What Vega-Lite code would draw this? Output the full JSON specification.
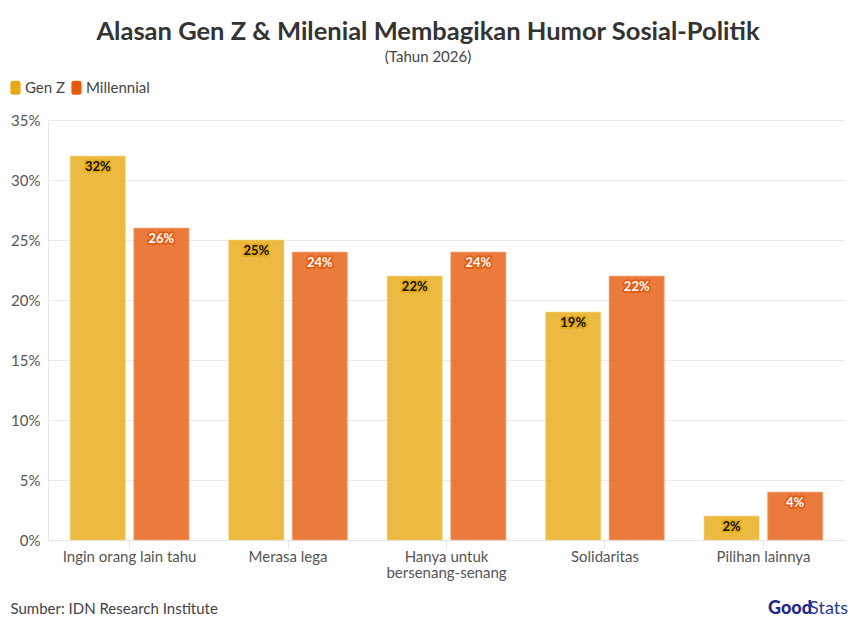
{
  "$schema": "https://vega.github.io/schema/vega-lite/v6.json",
  "width": 797,
  "height": 420,
  "autosize": {"type": "none"},
  "padding": {"left": 48, "top": 120, "right": 13, "bottom": 90},
  "background": "#ffffff",
  "title": {
    "text": "Alasan Gen Z & Milenial Membagikan Humor Sosial-Politik",
    "subtitle": "(Tahun 2026)",
    "anchor": "middle",
    "frame": "bounds",
    "offset": 15,
    "font": "Lato",
    "fontSize": 25.5,
    "fontWeight": "bold",
    "color": "#333333",
    "subtitleFont": "Lato",
    "subtitleFontSize": 15,
    "subtitleColor": "#444444",
    "subtitlePadding": 5
  },
  "config": {
    "view": {"stroke": null},
    "font": "Lato",
    "axis": {"labelFont": "Lato", "labelFontSize": 15, "labelColor": "#555555"}
  },
  "layer": [
    {
      "data": {
        "values": [
          {"alasan": "Ingin orang lain tahu", "generasi": "Gen Z", "persen": 32},
          {"alasan": "Ingin orang lain tahu", "generasi": "Millennial", "persen": 26},
          {"alasan": "Merasa lega", "generasi": "Gen Z", "persen": 25},
          {"alasan": "Merasa lega", "generasi": "Millennial", "persen": 24},
          {"alasan": "Hanya untuk|bersenang-senang", "generasi": "Gen Z", "persen": 22},
          {"alasan": "Hanya untuk|bersenang-senang", "generasi": "Millennial", "persen": 24},
          {"alasan": "Solidaritas", "generasi": "Gen Z", "persen": 19},
          {"alasan": "Solidaritas", "generasi": "Millennial", "persen": 22},
          {"alasan": "Pilihan lainnya", "generasi": "Gen Z", "persen": 2},
          {"alasan": "Pilihan lainnya", "generasi": "Millennial", "persen": 4}
        ]
      },
      "transform": [{"calculate": "datum.persen + '%'", "as": "label"}],
      "encoding": {
        "x": {
          "field": "alasan",
          "type": "nominal",
          "sort": null,
          "scale": {"paddingInner": 0.25, "paddingOuter": 0.14},
          "axis": {
            "title": "Sumber: IDN Research Institute",
            "titleFont": "Lato",
            "titleFontSize": 15,
            "titleFontWeight": "normal",
            "titleColor": "#444444",
            "titleAnchor": "start",
            "titleAlign": "left",
            "titleX": -38,
            "titleY": 61,
            "labelAngle": 0,
            "labelExpr": "split(datum.label, '|')",
            "labelPadding": 1,
            "labelLineHeight": 16,
            "domainColor": "#e6e6e6",
            "tickColor": "#e6e6e6",
            "tickSize": 8,
            "grid": false
          }
        },
        "xOffset": {"field": "generasi", "type": "nominal", "scale": {"paddingInner": 0.13}},
        "y": {
          "field": "persen",
          "type": "quantitative",
          "scale": {"domain": [0, 35]},
          "axis": {
            "title": null,
            "values": [0, 5, 10, 15, 20, 25, 30, 35],
            "labelExpr": "datum.value + '%'",
            "ticks": false,
            "labelPadding": 8,
            "domain": true,
            "domainColor": "#e6e6e6",
            "gridColor": "#ebebeb"
          }
        }
      },
      "layer": [
        {
          "mark": {"type": "bar", "fillOpacity": 0.8, "strokeOpacity": 0.4, "strokeWidth": 1.5},
          "encoding": {
            "color": {
              "field": "generasi",
              "type": "nominal",
              "scale": {"domain": ["Gen Z", "Millennial"], "range": ["#E8A912", "#E65A0B"]},
              "legend": {
                "title": null,
                "orient": "none",
                "legendX": -40,
                "legendY": -40,
                "direction": "horizontal",
                "symbolType": "M-0.72,-0.6 Q-0.72,-1 -0.32,-1 L0.32,-1 Q0.72,-1 0.72,-0.6 L0.72,0.6 Q0.72,1 0.32,1 L-0.32,1 Q-0.72,1 -0.72,0.6 Z",
                "symbolSize": 200,
                "symbolOpacity": 1,
                "symbolStrokeWidth": 0,
                "labelFont": "Lato",
                "labelFontSize": 15,
                "labelColor": "#444444",
                "labelOffset": 2,
                "columnPadding": 3
              }
            },
            "stroke": {
              "condition": {"test": "datum.generasi === 'Gen Z'", "value": "#F5DC8C"},
              "value": "#F4B48C"
            }
          }
        },
        {
          "mark": {"type": "text", "baseline": "middle", "dy": 11, "fontSize": 13, "fontWeight": "bold", "strokeWidth": 3.5, "strokeJoin": "round"},
          "encoding": {
            "text": {"field": "label", "type": "nominal"},
            "stroke": {
              "condition": {"test": "datum.generasi === 'Gen Z'", "value": "#E3AB12"},
              "value": "#E25D12"
            },
            "fill": {
              "condition": {"test": "datum.generasi === 'Gen Z'", "value": "#E3AB12"},
              "value": "#E25D12"
            }
          }
        },
        {
          "mark": {"type": "text", "baseline": "middle", "dy": 11, "fontSize": 13, "fontWeight": "bold"},
          "encoding": {
            "text": {"field": "label", "type": "nominal"},
            "fill": {
              "condition": {"test": "datum.generasi === 'Gen Z'", "value": "#111111"},
              "value": "#ffffff"
            }
          }
        }
      ]
    },
    {
      "data": {"values": [{"brand": "Good"}]},
      "mark": {"type": "text", "align": "right", "baseline": "alphabetic", "dx": -33, "dy": 74, "fontSize": 18, "fontWeight": 900, "font": "Lato", "color": "#1F2A86"},
      "encoding": {
        "x": {"value": "width"},
        "y": {"value": "height"},
        "text": {"field": "brand", "type": "nominal"}
      }
    },
    {
      "data": {"values": [{"brand": "Stats"}]},
      "mark": {"type": "text", "align": "right", "baseline": "alphabetic", "dx": 3, "dy": 74, "fontSize": 18, "fontWeight": "normal", "font": "Lato", "color": "#2B3A9A"},
      "encoding": {
        "x": {"value": "width"},
        "y": {"value": "height"},
        "text": {"field": "brand", "type": "nominal"}
      }
    }
  ]
}
